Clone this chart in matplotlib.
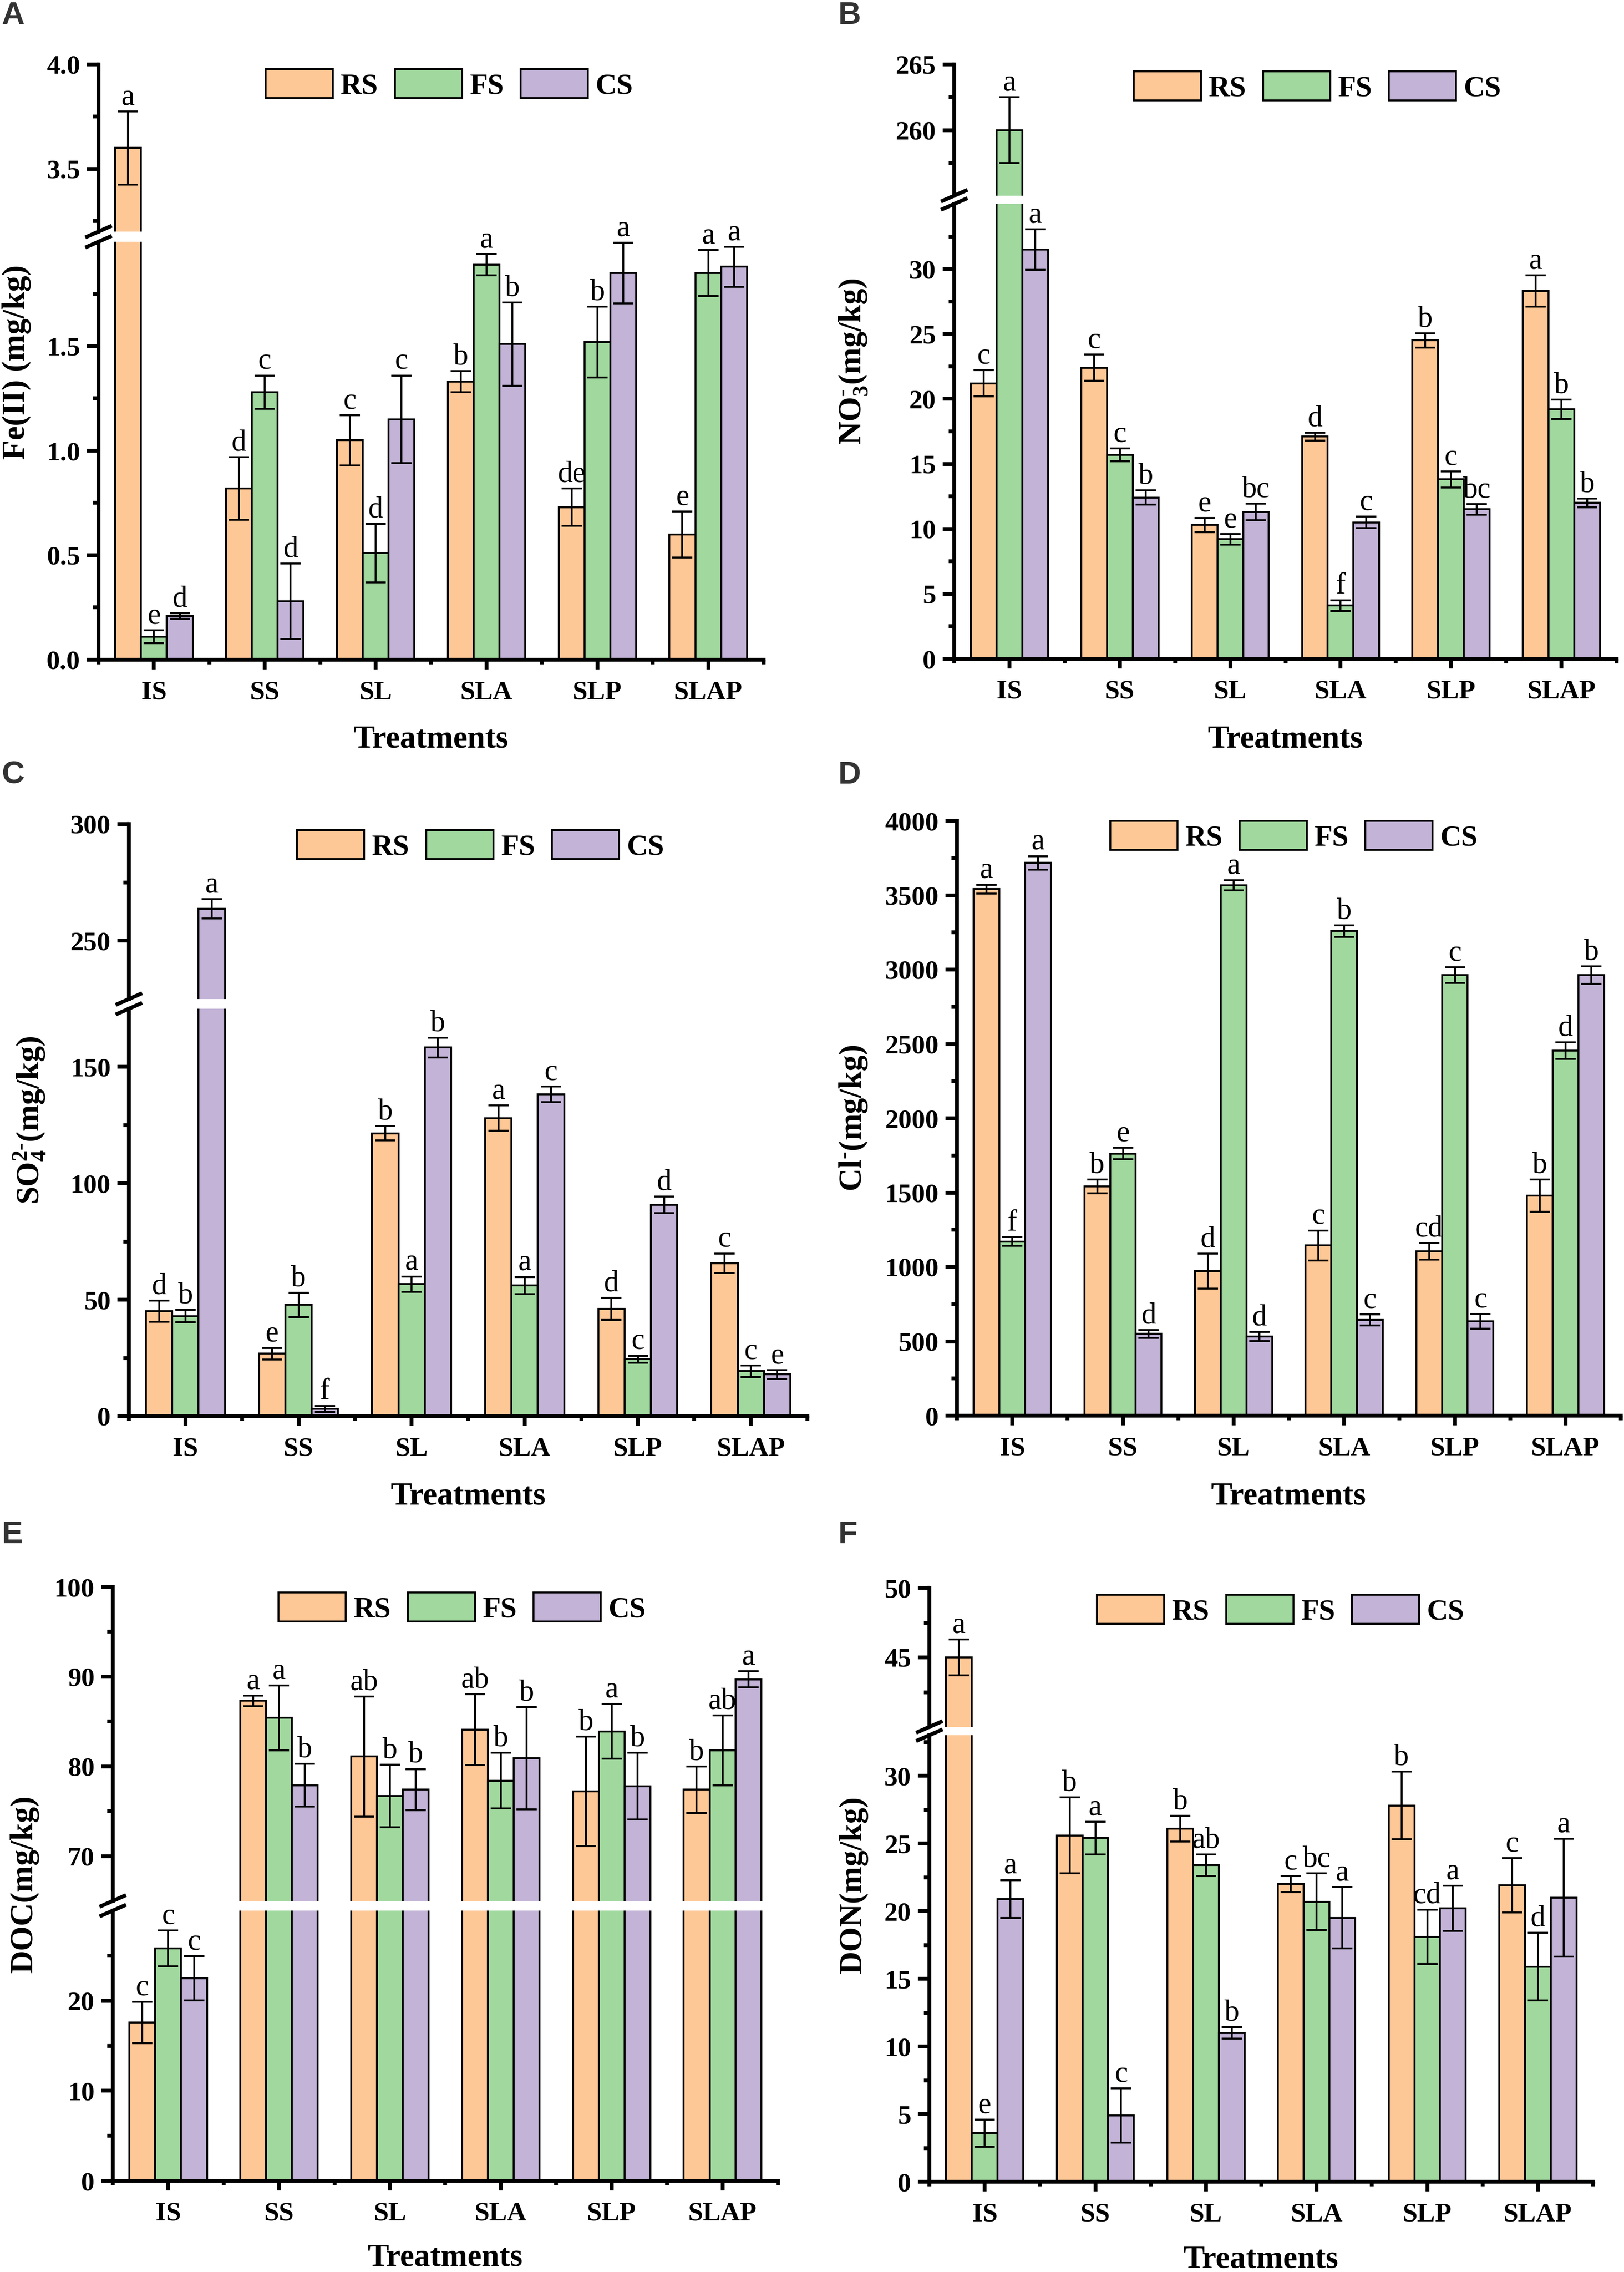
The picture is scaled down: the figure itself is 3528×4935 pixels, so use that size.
import matplotlib
matplotlib.use("Agg")
import matplotlib.pyplot as plt
from matplotlib.lines import Line2D
from matplotlib.ticker import FixedLocator
import numpy as np

plt.rcParams['font.family'] = ['Liberation Serif', 'DejaVu Serif']
plt.rcParams['mathtext.fontset'] = 'custom'
plt.rcParams['mathtext.rm'] = 'Liberation Serif:bold'
plt.rcParams['mathtext.it'] = 'Liberation Serif:italic:bold'
plt.rcParams['mathtext.bf'] = 'Liberation Serif:bold'

treatments = ["IS", "SS", "SL", "SLA", "SLP", "SLAP"]
soils = ["RS", "FS", "CS"]
colors = ["#FEC896", "#A0D89E", "#C2B3D7"]

# A  Fe(II)
fe_mean = [[3.60, 0.82, 1.05, 1.33, 0.73, 0.60],
           [0.11, 1.28, 0.51, 1.89, 1.52, 1.85],
           [0.21, 0.28, 1.15, 1.51, 1.85, 1.88]]
fe_err = [[0.175, 0.15, 0.12, 0.05, 0.09, 0.11],
          [0.03, 0.08, 0.14, 0.05, 0.17, 0.11],
          [0.013, 0.18, 0.21, 0.20, 0.145, 0.095]]
fe_letters = [["a", "d", "c", "b", "de", "e"],
              ["e", "c", "d", "a", "b", "a"],
              ["d", "d", "c", "b", "a", "a"]]

# B  NO3-
no3_mean = [[21.2, 22.4, 10.3, 17.1, 24.5, 28.3],
            [260.0, 15.7, 9.2, 4.1, 13.8, 19.2],
            [31.5, 12.4, 11.3, 10.5, 11.5, 12.0]]
no3_err = [[1.0, 1.0, 0.55, 0.3, 0.55, 1.2],
           [2.5, 0.5, 0.4, 0.4, 0.63, 0.75],
           [1.55, 0.55, 0.63, 0.45, 0.41, 0.34]]
no3_letters = [["c", "c", "e", "d", "b", "a"],
               ["a", "c", "e", "f", "c", "b"],
               ["a", "b", "bc", "c", "bc", "b"]]

# C  SO4 2-
so4_mean = [[45.1, 26.8, 121.5, 128.0, 46.1, 65.7],
            [43.0, 47.8, 56.7, 56.1, 24.5, 19.3],
            [263.7, 3.1, 158.3, 138.2, 90.8, 17.9]]
so4_err = [[4.6, 2.5, 3.1, 5.4, 4.8, 4.2],
           [2.7, 5.2, 3.3, 3.7, 1.5, 2.5],
           [4.1, 1.3, 4.2, 3.3, 3.5, 1.9]]
so4_letters = [["d", "e", "b", "a", "d", "c"],
               ["b", "b", "a", "a", "c", "c"],
               ["a", "f", "b", "c", "d", "e"]]

# D  Cl-
cl_mean = [[3541, 1541, 972, 1145, 1106, 1480],
           [1171, 1763, 3567, 3259, 2963, 2455],
           [3717, 550, 533, 644, 634, 2963]]
cl_err = [[30, 46, 117, 101, 55, 107],
          [29, 39, 33, 39, 52, 56],
          [46, 26, 30, 36, 49, 58]]
cl_letters = [["a", "b", "d", "c", "cd", "b"],
              ["f", "e", "a", "b", "c", "d"],
              ["a", "d", "d", "c", "c", "b"]]

# E  DOC
doc_mean = [[17.6, 87.3, 81.1, 84.1, 77.2, 77.4],
            [25.8, 85.4, 76.7, 78.4, 83.9, 81.8],
            [22.5, 77.9, 77.4, 80.9, 77.8, 89.7]]
doc_err = [[2.3, 0.6, 6.7, 3.95, 6.1, 2.6],
           [2.0, 3.6, 3.5, 3.1, 3.05, 3.9],
           [2.45, 2.4, 2.3, 5.7, 3.7, 0.9]]
doc_letters = [["c", "a", "ab", "ab", "b", "b"],
               ["c", "a", "b", "b", "a", "ab"],
               ["c", "b", "b", "b", "b", "a"]]

# F  DON
don_mean = [[45.0, 25.6, 26.1, 22.0, 27.8, 21.9],
            [3.6, 25.4, 23.4, 20.7, 18.1, 15.9],
            [20.9, 4.9, 11.0, 19.5, 20.2, 21.0]]
don_err = [[1.3, 2.8, 0.95, 0.6, 2.5, 2.0],
           [1.0, 1.2, 0.8, 2.1, 2.0, 2.5],
           [1.4, 2.0, 0.42, 2.26, 1.66, 4.35]]
don_letters = [["a", "b", "b", "c", "b", "c"],
               ["e", "a", "ab", "bc", "cd", "d"],
               ["a", "c", "b", "a", "a", "a"]]

W, H = 3528, 4935
fig = plt.figure(figsize=(W / 300, H / 300), dpi=300)


def fx(px):
    return px / W


def fy(py):
    return 1 - py / H


BW = 0.233


def style_y(ax, major, minor):
    ax.yaxis.set_major_locator(FixedLocator(major))
    ax.yaxis.set_minor_locator(FixedLocator(minor))
    ax.tick_params(axis='y', which='major', direction='out', length=6, width=2, labelsize=14, pad=3.5)
    ax.tick_params(axis='y', which='minor', direction='out', length=3, width=2)
    for t in ax.get_yticklabels():
        t.set_fontweight('bold')


def draw_panel(mean, err, letters, ylabel, letter, box, lower, lower_ticks, upper=None, upper_ticks=None):
    x0, x1, top, ub, lt, bottom, ylab_x, xlab_y, leg = box
    if upper is None:
        ax_l = fig.add_axes([fx(x0), fy(bottom), fx(x1) - fx(x0), fy(top) - fy(bottom)])
        ax_u = None
    else:
        ax_l = fig.add_axes([fx(x0), fy(bottom), fx(x1) - fx(x0), fy(lt) - fy(bottom)])
        ax_u = fig.add_axes([fx(x0), fy(ub), fx(x1) - fx(x0), fy(top) - fy(ub)])
    axes = [a for a in (ax_l, ax_u) if a is not None]

    x = np.arange(len(treatments))
    for a in axes:
        a.set_facecolor('none')
        for i in range(3):
            a.bar(x + (i - 1) * BW, mean[i], BW, color=colors[i], edgecolor='black',
                  linewidth=1.0, label=soils[i], zorder=2)
            a.errorbar(x + (i - 1) * BW, mean[i], yerr=err[i], fmt='none', ecolor='black',
                       elinewidth=1.0, capsize=5.2, capthick=1.0, zorder=3)
        a.set_xlim(-0.5, 5.5)
        a.spines['top'].set_visible(False)
        a.spines['right'].set_visible(False)
        for s in ('left', 'bottom'):
            a.spines[s].set_linewidth(2.0)

    ax_l.set_ylim(*lower)
    style_y(ax_l, *lower_ticks)
    ax_l.set_xticks(x)
    ax_l.set_xticklabels(treatments, fontsize=14, fontweight='bold')
    ax_l.xaxis.set_minor_locator(FixedLocator(np.arange(-0.5, 6.0, 1.0)))
    ax_l.tick_params(axis='x', which='major', direction='out', length=5, width=2, pad=6)
    ax_l.tick_params(axis='x', which='minor', direction='out', length=2.5, width=2)

    if ax_u is not None:
        ax_u.set_ylim(*upper)
        style_y(ax_u, *upper_ticks)
        ax_u.spines['bottom'].set_visible(False)
        ax_u.tick_params(axis='x', which='both', bottom=False, labelbottom=False)
        for yb in (ub, lt):
            fig.add_artist(Line2D([fx(x0 - 25), fx(x0 + 25)], [fy(yb + 11), fy(yb - 11)],
                                  color='black', lw=2.0, transform=fig.transFigure))

    # significance letters
    for i in range(3):
        for j in range(len(treatments)):
            ytop = mean[i][j] + err[i][j]
            a = ax_u if (ax_u is not None and ytop > lower[1]) else ax_l
            a.annotate(letters[i][j], (x[j] + (i - 1) * BW, ytop), xytext=(0, 3.5),
                       textcoords='offset points', ha='center', va='baseline',
                       fontsize=15.5, annotation_clip=False, zorder=4)

    ax_l.set_ylabel(ylabel, fontsize=16.7, fontweight='bold', va='center')
    ax_l.yaxis.set_label_coords(fx(ylab_x), fy((top + bottom) / 2), transform=fig.transFigure)
    ax_l.set_xlabel('Treatments', fontsize=16.7, fontweight='bold', va='center')
    ax_l.xaxis.set_label_coords(fx((x0 + x1) / 2), fy(xlab_y), transform=fig.transFigure)

    handles, labels = ax_l.get_legend_handles_labels()
    ax_l.legend(handles, labels, loc='upper left', bbox_to_anchor=(fx(leg[0]), fy(leg[1])),
                bbox_transform=fig.transFigure, ncol=3, frameon=False, borderpad=0,
                borderaxespad=0, handlelength=2.29, handleheight=1.15, handletextpad=0.27,
                columnspacing=0.56, prop={'weight': 'bold', 'size': 15.3})

    fig.text(fx(letter[1]), fy(letter[2]), letter[0], ha='left', va='top', fontsize=16.5,
             fontweight='bold', family='Liberation Sans', color='#333333')


draw_panel(fe_mean, fe_err, fe_letters, 'Fe(II) (mg/kg)', ('A', 3, 2),
           (214, 1659, 140, 503, 525, 1433, 36, 1607, (577, 150)),
           (0, 2.0), ([0, 0.5, 1.0, 1.5], [0.25, 0.75, 1.25, 1.75]),
           (3.2, 4.0), ([3.5, 4.0], [3.25, 3.75]))

draw_panel(no3_mean, no3_err, no3_letters, r'NO$_{3}^{\text{-}}$(mg/kg)', ('B', 1820, 2),
           (2073, 3512, 140, 425, 443, 1431, 1854, 1607, (2463, 155)),
           (0, 35), (list(range(0, 31, 5)), list(np.arange(2.5, 33, 5))),
           (255, 265), ([260, 265], [257.5, 262.5]))

draw_panel(so4_mean, so4_err, so4_letters, r'SO$_{4}^{2\text{-}}$(mg/kg)', ('C', 3, 1652),
           (280, 1754, 1790, 2170, 2191, 3076, 64, 3251, (645, 1803)),
           (0, 175), ([0, 50, 100, 150], [25, 75, 125]),
           (225, 300), ([250, 300], [275]))

draw_panel(cl_mean, cl_err, cl_letters, r'Cl$^{\text{-}}$(mg/kg)', ('D', 1820, 1652),
           (2079, 3521, 1783, None, None, 3075, 1854, 3251, (2412, 1783)),
           (0, 4000), (list(range(0, 4001, 500)), list(range(250, 4000, 500))))

draw_panel(doc_mean, doc_err, doc_letters, 'DOC(mg/kg)', ('E', 3, 3302),
           (245, 1690, 3447, 4129, 4150, 4737, 53, 4905, (605, 3459)),
           (0, 30), ([0, 10, 20], [5, 15, 25]),
           (65, 100), ([70, 80, 90, 100], [75, 85, 95]))

draw_panel(don_mean, don_err, don_letters, 'DON(mg/kg)', ('F', 1820, 3302),
           (2019, 3461, 3449, 3751, 3769, 4739, 1854, 4908, (2383, 3464)),
           (0, 33), (list(range(0, 31, 5)), list(np.arange(2.5, 33, 5))),
           (40, 50), ([45, 50], [42.5, 47.5]))

fig.savefig("out.png", dpi=300)
